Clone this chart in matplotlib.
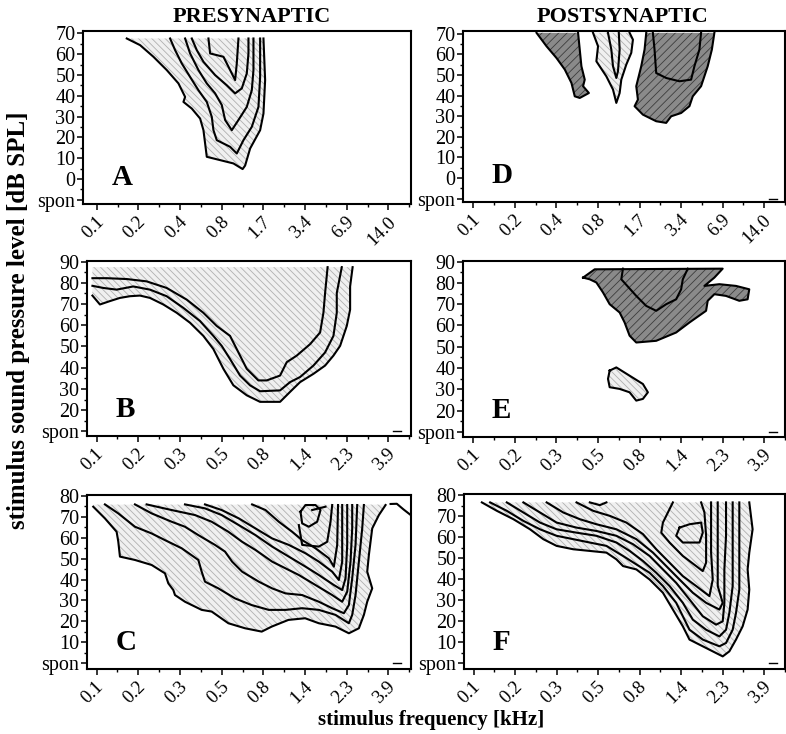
import matplotlib
matplotlib.use('Agg')
import matplotlib.pyplot as plt
import matplotlib.transforms as mtransforms
from matplotlib.patches import Polygon

plt.rcParams['font.family'] = ['Liberation Serif', 'DejaVu Serif']
plt.rcParams['hatch.linewidth'] = 0.6

W, H = 786, 734

# tick labels (x positions are the tick index 0..7)
freq_top = ['0.1', '0.2', '0.4', '0.8', '1.7', '3.4', '6.9', '14.0']
freq_low = ['0.1', '0.2', '0.3', '0.5', '0.8', '1.4', '2.3', '3.9']
levels_top = [-10, 0, 10, 20, 30, 40, 50, 60, 70]
levels_mid = [10, 20, 30, 40, 50, 60, 70, 80, 90]
levels_low = [0, 10, 20, 30, 40, 50, 60, 70, 80]

# ---- panel A: presynaptic, contour lines (x = freq tick index, y = dB)
a_outer = [(0.72, 67.6), (1.04, 64.4), (1.36, 58.8), (1.68, 52.4), (1.96, 46.0), (2.12, 39.5),
           (2.08, 37.1), (2.28, 33.9), (2.48, 29.1), (2.56, 23.5), (2.60, 17.1), (2.64, 10.7),
           (2.96, 9.1), (3.28, 7.5), (3.50, 4.8), (3.56, 6.5), (3.68, 14.7), (3.92, 23.5),
           (4.00, 31.5), (4.04, 47.6), (4.00, 67.6)]
a_c2 = [(1.76, 67.6), (1.88, 62.0), (2.04, 55.6), (2.24, 49.1), (2.44, 42.7), (2.64, 37.1),
        (2.76, 29.9), (2.80, 23.5), (2.88, 18.7), (3.20, 15.5), (3.36, 12.3), (3.52, 18.7),
        (3.72, 25.1), (3.88, 34.7), (3.92, 49.1), (3.92, 67.6)]
a_c3 = [(2.12, 67.6), (2.24, 60.4), (2.44, 52.4), (2.64, 46.0), (2.84, 41.2), (3.00, 35.6),
        (3.08, 28.4), (3.24, 23.5), (3.40, 28.4), (3.60, 34.7), (3.72, 42.7), (3.76, 52.4),
        (3.76, 67.6)]
a_c4 = [(2.28, 67.6), (2.40, 62.0), (2.56, 56.4), (2.84, 50.0), (3.12, 45.1), (3.32, 41.2),
        (3.48, 43.6), (3.60, 50.8), (3.64, 60.4), (3.64, 67.6)]
a_c5 = [(2.68, 67.6), (2.72, 60.4), (3.04, 58.8), (3.12, 55.6), (3.32, 47.6), (3.36, 55.6),
        (3.40, 67.6)]

# ---- panel B
b_outer = [(-0.10, 74.0), (0.08, 69.8), (0.32, 71.4), (0.56, 72.9), (0.80, 73.7), (1.04, 74.0),
           (1.28, 72.9), (1.60, 69.8), (1.92, 65.9), (2.24, 61.2), (2.56, 55.0), (2.80, 48.8),
           (3.04, 39.5), (3.28, 31.7), (3.60, 27.0), (3.92, 23.9), (4.40, 23.9), (4.64, 28.6),
           (4.88, 33.2), (5.20, 37.1), (5.48, 41.0), (5.68, 45.7), (5.84, 50.3), (6.00, 59.7),
           (6.08, 67.4), (6.08, 78.3), (6.14, 87.4)]
b_c2 = [(-0.10, 78.6), (0.16, 77.6), (0.48, 76.8), (0.88, 78.3), (1.28, 76.8), (1.68, 73.7),
        (2.08, 68.2), (2.48, 62.0), (2.80, 55.0), (3.00, 50.3), (3.20, 44.1), (3.44, 36.3),
        (3.68, 31.7), (3.92, 28.9), (4.40, 29.3), (4.64, 33.2), (4.88, 35.6), (5.20, 41.0),
        (5.48, 47.2), (5.68, 55.0), (5.76, 65.9), (5.76, 75.2), (5.88, 87.4)]
b_c3 = [(-0.10, 82.2), (0.24, 82.2), (0.72, 81.8), (1.20, 80.7), (1.68, 77.6), (2.16, 72.1),
        (2.56, 65.9), (2.88, 59.7), (3.20, 55.0), (3.36, 48.8), (3.60, 39.5), (3.88, 34.0),
        (4.08, 34.0), (4.40, 36.3), (4.56, 42.6), (4.80, 45.7), (5.12, 51.1), (5.36, 56.6),
        (5.44, 65.9), (5.48, 75.2), (5.54, 87.4)]

# ---- panel C
c_outer = [(-0.08, 74.9), (0.20, 69.3), (0.48, 62.9), (0.52, 58.2), (0.56, 51.0), (0.92, 49.4),
           (1.32, 47.0), (1.64, 43.0), (1.72, 38.2), (1.84, 35.0), (1.88, 32.6), (2.12, 29.4),
           (2.52, 25.5), (2.76, 24.7), (3.16, 19.1), (3.56, 16.7), (3.96, 15.1), (4.20, 17.5),
           (4.60, 20.7), (5.00, 21.5), (5.33, 19.1), (5.73, 17.5), (6.05, 14.3), (6.29, 16.7),
           (6.41, 23.1), (6.49, 29.4), (6.61, 35.8), (6.49, 43.8), (6.53, 51.8), (6.61, 64.5),
           (6.77, 70.9), (6.93, 75.7)]
c_edge = [(7.05, 76.2), (7.20, 76.3), (7.36, 73.6), (7.54, 70.8)]
c_c2 = [(0.20, 76.0), (0.52, 71.7), (0.92, 65.3), (1.32, 62.1), (1.64, 58.9), (2.04, 55.0),
        (2.44, 49.4), (2.52, 43.8), (2.60, 39.0), (2.92, 35.8), (3.32, 31.0), (3.72, 27.8),
        (4.13, 25.5), (4.53, 25.5), (4.93, 26.3), (5.33, 25.5), (5.73, 23.1), (6.05, 19.1),
        (6.13, 23.1), (6.21, 32.6), (6.29, 48.6), (6.37, 64.5), (6.41, 75.7)]
c_c3 = [(0.92, 76.0), (1.32, 71.7), (1.80, 67.7), (2.12, 65.3), (2.44, 61.3), (2.84, 56.6),
        (3.08, 53.4), (3.25, 48.6), (3.49, 43.8), (3.89, 39.0), (4.21, 35.8), (4.53, 33.4),
        (4.93, 32.6), (5.33, 29.4), (5.65, 26.3), (5.93, 23.9), (6.05, 27.8), (6.13, 40.6),
        (6.21, 56.6), (6.25, 75.7)]
c_c4 = [(1.20, 76.0), (1.80, 73.3), (2.36, 70.9), (2.76, 67.7), (3.16, 62.9), (3.49, 58.1),
        (3.81, 54.2), (4.21, 48.6), (4.53, 45.4), (4.85, 42.2), (5.25, 37.4), (5.65, 32.6),
        (5.89, 29.4), (6.01, 34.2), (6.09, 48.6), (6.13, 64.5), (6.13, 75.7)]
c_c5 = [(2.12, 76.0), (2.60, 74.1), (3.00, 70.9), (3.41, 66.1), (3.81, 61.3), (4.21, 55.8),
        (4.61, 51.0), (5.01, 46.2), (5.33, 42.2), (5.69, 37.4), (5.89, 35.0), (5.97, 40.6),
        (6.01, 56.6), (6.01, 75.7)]
c_c6 = [(2.60, 76.0), (3.00, 73.3), (3.41, 69.3), (3.81, 64.5), (4.21, 59.7), (4.61, 56.6),
        (5.01, 52.6), (5.33, 48.6), (5.65, 43.8), (5.81, 39.8), (5.89, 48.6), (5.89, 64.5),
        (5.89, 75.7)]
c_c7 = [(3.73, 76.0), (4.05, 73.3), (4.37, 67.7), (4.69, 62.9), (4.93, 58.9), (5.25, 55.0),
        (5.57, 50.2), (5.69, 46.2), (5.77, 56.6), (5.79, 75.7)]
c_c8 = [(4.85, 66.1), (4.93, 56.6), (5.33, 55.8), (5.53, 58.1), (5.61, 67.7), (5.65, 75.7)]
c_loop = [(4.89, 72.5), (5.01, 75.7), (5.25, 75.7), (5.37, 73.3), (5.29, 67.7), (5.09, 65.3),
          (4.93, 66.9)]
c_tail = [(5.17, 73.3), (5.49, 74.9)]

# ---- panel D: postsynaptic
d_dark1 = [(1.52, 70.5), (1.76, 64.0), (2.00, 58.3), (2.20, 52.7), (2.36, 46.2), (2.44, 39.7),
           (2.56, 38.9), (2.78, 41.3), (2.64, 44.6), (2.68, 47.8), (2.60, 54.3), (2.56, 62.4),
           (2.52, 70.5)]
d_light = [(2.88, 70.5), (3.00, 64.0), (2.96, 56.7), (3.20, 49.4), (3.36, 43.0), (3.44, 36.5),
           (3.52, 41.3), (3.56, 47.8), (3.68, 55.1), (3.80, 60.8), (3.84, 67.2), (3.76, 70.5)]
d_inner = [(3.24, 70.5), (3.32, 62.4), (3.36, 54.3), (3.44, 48.6), (3.48, 51.9), (3.52, 62.4),
           (3.50, 70.5)]
d_dark2 = [(4.16, 70.5), (4.12, 62.4), (4.04, 54.3), (3.92, 44.6), (3.96, 38.1), (3.88, 34.9),
           (4.08, 30.8), (4.40, 27.6), (4.64, 26.8), (4.76, 30.0), (5.00, 31.6), (5.20, 34.9),
           (5.28, 39.7), (5.48, 44.6), (5.64, 54.3), (5.74, 62.4), (5.80, 70.5)]
d_dark2_inner = [(4.32, 70.5), (4.36, 62.4), (4.40, 51.0), (4.64, 48.6), (4.96, 47.0),
                 (5.24, 47.8), (5.32, 54.3), (5.44, 62.4), (5.48, 70.5)]

# ---- panel E
e_dark = [(2.64, 82.5), (2.92, 86.4), (6.00, 86.7), (5.80, 82.5), (5.56, 78.6), (5.92, 79.4),
          (6.32, 78.6), (6.64, 77.0), (6.60, 72.3), (6.40, 71.6), (6.08, 73.9), (5.80, 74.7),
          (5.64, 71.6), (5.60, 66.9), (5.20, 61.4), (4.88, 56.7), (4.40, 52.8), (3.92, 52.0),
          (3.76, 55.2), (3.64, 61.4), (3.52, 66.1), (3.28, 70.0), (3.12, 75.5), (2.96, 80.2),
          (2.80, 81.7)]
e_inner = [(3.60, 86.7), (3.56, 81.7), (3.92, 73.9), (4.16, 69.2), (4.40, 66.9), (4.64, 70.0),
           (4.88, 72.3), (5.00, 77.0), (5.04, 81.7), (5.16, 86.7)]
e_blob = [(3.28, 38.8), (3.44, 40.3), (3.76, 36.4), (4.08, 32.5), (4.20, 28.6), (4.08, 25.5),
          (3.92, 24.7), (3.76, 28.6), (3.52, 30.2), (3.28, 31.0), (3.24, 34.9)]

# ---- panel F
f_outer = [(0.20, 76.5), (0.56, 72.5), (0.96, 68.5), (1.36, 63.7), (1.68, 59.0), (2.00, 55.8),
           (2.40, 54.2), (2.80, 53.4), (3.20, 52.6), (3.44, 49.4), (3.60, 46.2), (3.92, 44.6),
           (4.24, 39.8), (4.56, 33.5), (4.80, 25.5), (5.04, 17.5), (5.20, 11.2), (5.52, 8.0),
           (5.84, 4.8), (6.00, 3.2), (6.16, 5.6), (6.32, 11.2), (6.48, 17.5), (6.60, 25.5),
           (6.64, 35.0), (6.60, 44.6), (6.64, 52.6), (6.72, 63.7), (6.64, 76.5)]
f_c2 = [(0.40, 76.5), (0.80, 72.5), (1.20, 67.7), (1.60, 63.7), (2.00, 60.6), (2.40, 59.0),
        (2.80, 57.4), (3.20, 55.8), (3.60, 51.0), (3.92, 47.0), (4.24, 43.0), (4.56, 36.7),
        (4.88, 28.7), (5.04, 22.3), (5.20, 15.9), (5.52, 11.2), (5.92, 8.0), (6.08, 9.6),
        (6.24, 15.9), (6.32, 23.9), (6.40, 35.0), (6.40, 52.6), (6.40, 66.9), (6.40, 76.5)]
f_c3 = [(0.80, 76.5), (1.20, 71.7), (1.60, 66.9), (2.00, 63.7), (2.48, 62.1), (2.96, 60.6),
        (3.44, 57.4), (3.76, 53.4), (4.08, 48.6), (4.40, 43.0), (4.72, 36.7), (5.04, 28.7),
        (5.28, 20.7), (5.60, 15.9), (5.92, 12.7), (6.08, 15.9), (6.16, 23.9), (6.24, 36.7),
        (6.24, 52.6), (6.24, 76.5)]
f_c4 = [(1.20, 76.5), (1.60, 71.7), (2.00, 66.9), (2.48, 64.5), (2.96, 62.9), (3.44, 60.6),
        (3.84, 56.6), (4.24, 51.0), (4.56, 44.6), (4.88, 38.2), (5.20, 30.3), (5.52, 22.3),
        (5.84, 18.3), (6.00, 19.9), (6.04, 28.7), (6.04, 44.6), (6.08, 60.6), (6.08, 76.5)]
f_c5 = [(1.76, 76.5), (2.16, 71.7), (2.56, 68.5), (2.96, 66.1), (3.44, 63.7), (3.92, 59.0),
        (4.32, 52.6), (4.64, 46.2), (4.96, 39.8), (5.28, 33.5), (5.60, 28.7), (5.92, 25.5),
        (6.00, 28.7), (5.88, 36.7), (5.88, 52.6), (5.88, 76.5)]
f_c6 = [(2.48, 76.5), (2.88, 72.5), (3.28, 70.1), (3.68, 66.9), (4.08, 61.4), (4.40, 54.2),
        (4.72, 47.8), (5.04, 41.4), (5.36, 36.7), (5.68, 31.9), (5.76, 39.8), (5.72, 52.6),
        (5.72, 76.5)]
f_top = [(2.80, 76.5), (3.04, 75.2), (3.20, 76.5)]
f_c7 = [(4.80, 76.5), (4.56, 66.9), (4.52, 62.1), (4.72, 57.4), (5.04, 51.0), (5.36, 46.2),
        (5.52, 43.8), (5.60, 47.8), (5.60, 60.6), (5.56, 71.7), (5.48, 76.5)]
f_peak = [(4.96, 64.5), (5.20, 66.1), (5.48, 66.9), (5.52, 62.1), (5.44, 57.4), (5.04, 57.4),
          (4.88, 60.6)]

spon_dash = (7.12, 7.30)


def px_rect(left, top, right, bottom):
    return [left / W, 1 - bottom / H, (right - left) / W, (bottom - top) / H]


def shade(ax, pts, dark=False, close_top=None, close_left=None):
    pts = list(pts)
    if close_top is not None:
        pts = pts + [(pts[-1][0], close_top), (pts[0][0] if close_left is None else close_left, close_top)]
        if close_left is not None:
            pts = pts + [(close_left, pts[0][1])]
    face = '#8a8a8a' if dark else '#f0f0f0'
    hcol = '#3c3c3c' if dark else '#b0b0b0'
    hatch = '////' if dark else '\\\\\\\\\\'
    ax.add_patch(Polygon(pts, closed=True, facecolor=face, edgecolor='none', zorder=1))
    ax.add_patch(Polygon(pts, closed=True, facecolor='none', edgecolor=hcol, hatch=hatch,
                         linewidth=0, zorder=1.5))


def line(ax, pts, closed=False):
    xs = [p[0] for p in pts]
    ys = [p[1] for p in pts]
    if closed:
        xs.append(xs[0])
        ys.append(ys[0])
    ax.plot(xs, ys, color='black', lw=1.5, solid_joinstyle='round', zorder=3)


def setup(ax, labels, levels, xlim, ylim, letter, dash=True):
    ax.set_xlim(*xlim)
    ax.set_ylim(*ylim)
    ax.set_xticks(range(len(labels)))
    ax.set_xticklabels(labels, rotation=45, ha='right', va='center', rotation_mode='anchor',
                       fontsize=13.5)
    ax.set_xticks([i + 0.5 for i in range(len(labels))], minor=True)
    ax.set_yticks(levels)
    ax.set_yticklabels(['spon'] + [str(v) for v in levels[1:]], fontsize=14.5)
    ax.set_yticks([v + 5 for v in levels[:-1]], minor=True)
    ax.tick_params(which='major', direction='out', length=4, width=1.1, pad=1.5)
    ax.tick_params(axis='x', which='major', pad=7)
    ax.tick_params(which='minor', direction='out', length=2.5, width=1)
    # nudge the slanted labels so they end just right of their tick, as in the print
    shift = mtransforms.ScaledTranslation(0.045, 0, fig.dpi_scale_trans)
    for lab in ax.get_xticklabels():
        lab.set_transform(lab.get_transform() + shift)
    for s in ax.spines.values():
        s.set_linewidth(1.5)
    ax.text(0.088, 0.11, letter, transform=ax.transAxes, fontsize=21, fontweight='bold',
            ha='left', va='baseline')
    if dash:
        ax.plot(spon_dash, [levels[0], levels[0]], color='black', lw=1.0)


fig = plt.figure(figsize=(W / 100, H / 100), dpi=100)

axA = fig.add_axes(px_rect(83, 31, 411, 204))
axB = fig.add_axes(px_rect(87, 261, 411, 436))
axC = fig.add_axes(px_rect(87, 495, 411, 669))
axD = fig.add_axes(px_rect(463, 31, 785, 202))
axE = fig.add_axes(px_rect(463, 261, 785, 437))
axF = fig.add_axes(px_rect(464, 494, 785, 669))

# A
shade(axA, a_outer, close_top=67.6)
for c in (a_outer, a_c2, a_c3, a_c4, a_c5):
    line(axA, c)
setup(axA, freq_top, levels_top, (-0.33, 7.54), (-12.0, 71.2), 'A', dash=False)

# B
shade(axB, b_outer, close_top=87.4, close_left=-0.10)
for c in (b_outer, b_c2, b_c3):
    line(axB, c)
setup(axB, freq_low, levels_mid, (-0.23, 7.54), (7.8, 90.3), 'B')

# C
shade(axC, c_outer, close_top=75.9)
for c in (c_outer, c_edge, c_c2, c_c3, c_c4, c_c5, c_c6, c_c7, c_c8, c_tail):
    line(axC, c)
line(axC, c_loop, closed=True)
setup(axC, freq_low, levels_low, (-0.23, 7.54), (-2.8, 80.5), 'C')

# D
shade(axD, d_dark1, dark=True)
shade(axD, d_light)
shade(axD, d_dark2, dark=True)
for c in (d_dark1, d_light, d_dark2):
    line(axD, c)
line(axD, d_inner)
line(axD, d_dark2_inner)
setup(axD, freq_top, levels_top, (-0.25, 7.48), (-11.6, 71.4), 'D')

# E
shade(axE, e_dark, dark=True)
shade(axE, e_blob)
line(axE, e_dark, closed=True)
line(axE, e_inner)
line(axE, e_blob, closed=True)
setup(axE, freq_low, levels_mid, (-0.25, 7.48), (7.6, 90.3), 'E')

# F
shade(axF, f_outer, close_top=76.5)
for c in (f_outer, f_c2, f_c3, f_c4, f_c5, f_c6, f_top, f_c7):
    line(axF, c)
line(axF, f_peak, closed=True)
setup(axF, freq_low, levels_low, (-0.23, 7.46), (-2.8, 80.5), 'F')

fig.text(252 / W, 1 - 17 / H, 'PRESYNAPTIC', ha='center', va='center', fontsize=16,
         fontweight='bold')
fig.text(622 / W, 1 - 17 / H, 'POSTSYNAPTIC', ha='center', va='center', fontsize=16,
         fontweight='bold')
fig.text(19 / W, 1 - 320 / H, 'stimulus sound pressure level [dB SPL]', rotation=90,
         ha='center', va='center', fontsize=18, fontweight='bold')
fig.text(431 / W, 1 - 720 / H, 'stimulus frequency [kHz]', ha='center', va='center',
         fontsize=15, fontweight='bold')

fig.savefig('out.png', dpi=100)
